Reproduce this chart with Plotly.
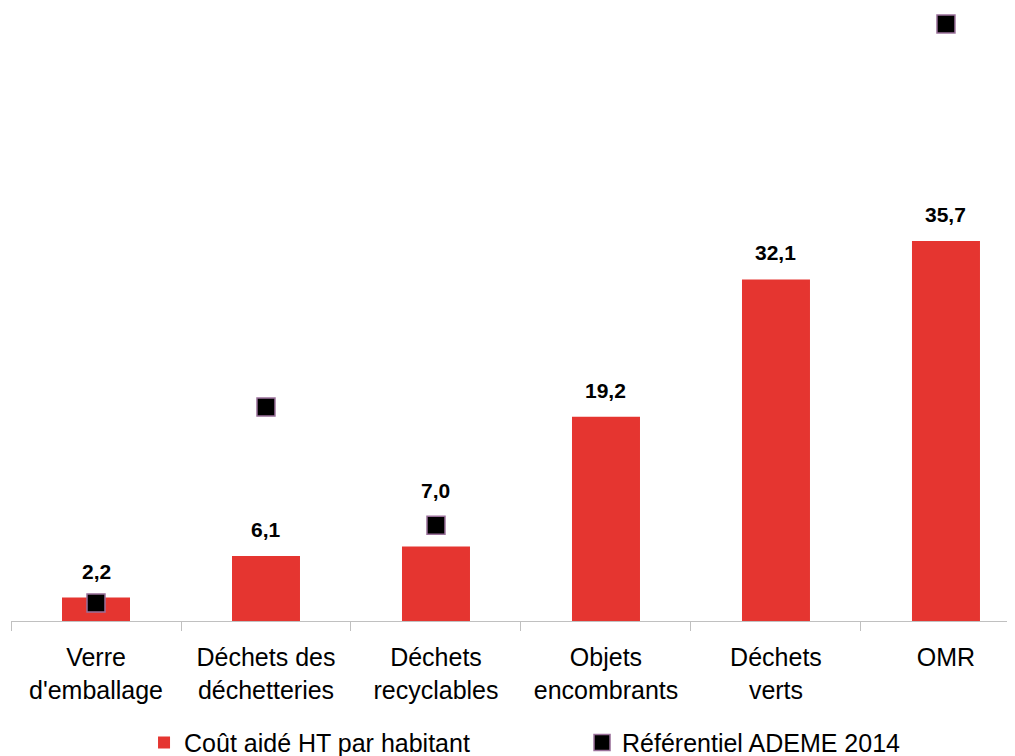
import plotly.graph_objects as go

categories = ["Verre<br>d'emballage", "Déchets des<br>déchetteries", "Déchets<br>recyclables",
              "Objets<br>encombrants", "Déchets<br>verts", "OMR"]
cout_aide = [2.2, 6.1, 7.0, 19.2, 32.1, 35.7]
ref_ademe = [1.7, 20.1, 9.0, None, None, 56.1]
labels = ["2,2", "6,1", "7,0", "19,2", "32,1", "35,7"]

# le libellé 7,0 est remonté au-dessus du marqueur
label_shift = {2: 30}

fig = go.Figure()

fig.add_trace(go.Bar(
    x=categories,
    y=cout_aide,
    name="Coût aidé HT par habitant",
    marker=dict(color="#E53530", line=dict(width=0)),
    width=0.4,
))

fig.add_trace(go.Scatter(
    x=categories,
    y=ref_ademe,
    mode="markers",
    name="Référentiel ADEME 2014",
    marker=dict(symbol="square", size=18, color="black",
                line=dict(color="#9a709a", width=1.5)),
    cliponaxis=False,
))

for i, (cat, val, lab) in enumerate(zip(categories, cout_aide, labels)):
    fig.add_annotation(
        x=cat, y=val, text=lab, showarrow=False,
        yanchor="bottom", yshift=13 + label_shift.get(i, 0),
        font=dict(family="Liberation Sans, Arial", size=21, color="black", weight="bold"),
    )

# la page ajoute une marge de 8 px : la figure fait 1007 x 748
fig.update_layout(
    width=1007,
    height=748,
    margin=dict(l=3, r=0, t=0, b=135, autoexpand=False),
    paper_bgcolor="white",
    plot_bgcolor="white",
    font=dict(family="Liberation Sans, Arial", color="black"),
    showlegend=True,
    legend=dict(
        orientation="h",
        x=0.1325, xanchor="left",
        y=-0.161, yanchor="top",
        font=dict(size=25),
        entrywidth=393,
        itemwidth=30,
        traceorder="normal",
    ),
    xaxis=dict(
        range=[-0.5, 5.406],
        showline=True, linecolor="#c0c0c0", linewidth=1,
        ticks="outside", ticklen=9, tickcolor="#c0c0c0",
        tickson="boundaries",
        tickfont=dict(size=25),
        ticklabelstandoff=14,
        showgrid=False,
        automargin=False,
    ),
    yaxis=dict(range=[0, 57.6], visible=False, showgrid=False, automargin=False),
)

fig.write_html("out.html")
